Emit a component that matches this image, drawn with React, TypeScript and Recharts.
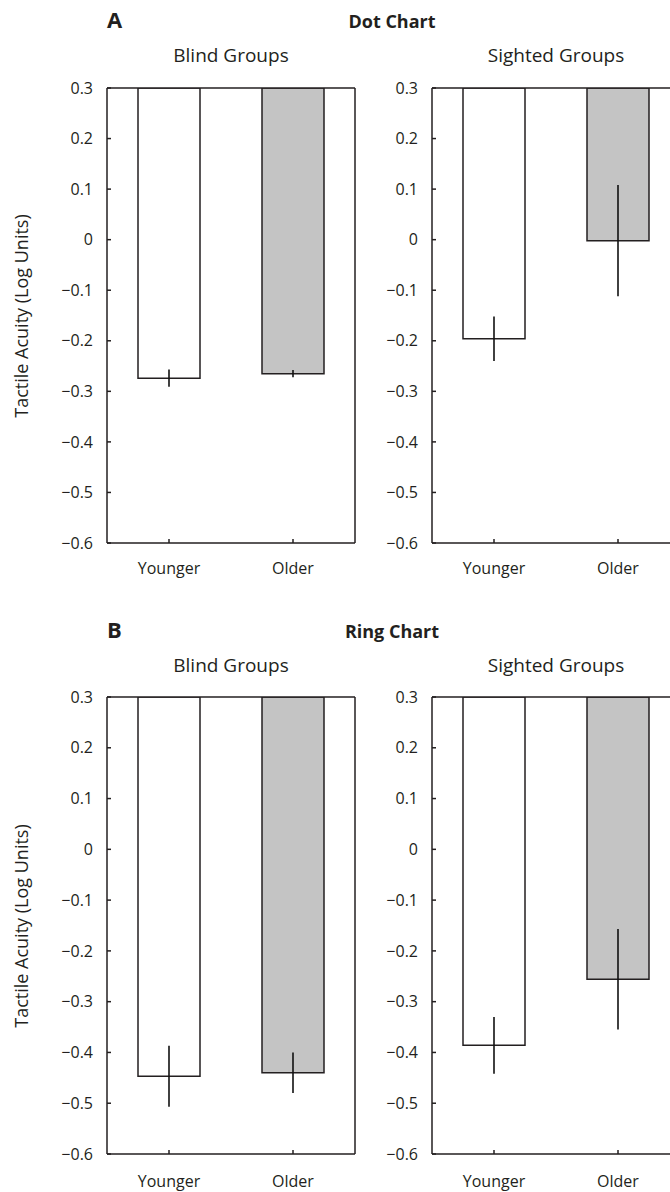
import { BarChart, Bar, XAxis, YAxis, ErrorBar, Cell } from "recharts";

const categories = ["Younger", "Older"];
const barFills = ["#ffffff", "#c4c4c4"];
const yTicks = [-0.6, -0.5, -0.4, -0.3, -0.2, -0.1, 0, 0.1, 0.2, 0.3];
const barTop = 0.3;

// Dot chart (A)
const dotBlind = [-0.274, -0.265];
const dotBlindErr = [0.017, 0.007];
const dotSighted = [-0.196, -0.002];
const dotSightedErr = [0.044, 0.11];

// Ring chart (B)
const ringBlind = [-0.447, -0.44];
const ringBlindErr = [0.06, 0.04];
const ringSighted = [-0.386, -0.256];
const ringSightedErr = [0.056, 0.099];

const FONT = "'Open Sans', 'Noto Sans', sans-serif";
const INK = "#231f20";
const PLOT_W = 248;
const AXIS_W = 50;

function fmt(v: number) {
  if (Math.abs(v) < 1e-9) return "0";
  const s = Math.abs(v).toFixed(1);
  return v < 0 ? "\u2212" + s : s;
}

function Panel({
  values,
  errors,
  left,
  top,
  plotH,
  labelGap,
}: {
  values: number[];
  errors: number[];
  left: number;
  top: number;
  plotH: number;
  labelGap: number;
}) {
  const data = categories.map((c, i) => ({
    group: c,
    range: [barTop, values[i]],
    err: errors[i],
  }));
  const tickStyle = { fontSize: 16, fill: INK, fontFamily: FONT };
  const line = { stroke: INK, strokeWidth: 1.5 };
  return (
    <div style={{ position: "absolute", left: left - AXIS_W, top: top - 10 }}>
      <BarChart
        width={AXIS_W + PLOT_W + 10}
        height={10 + plotH + 50}
        data={data}
        margin={{ top: 5, right: 0, bottom: 0, left: 0 }}
        barCategoryGap="25%"
        style={{ fontFamily: FONT }}
      >
        <XAxis
          xAxisId="top"
          orientation="top"
          dataKey="group"
          height={5}
          tick={false}
          tickSize={-4}
          axisLine={line}
          tickLine={line}
        />
        <XAxis
          dataKey="group"
          height={50}
          tickSize={-4}
          tickMargin={labelGap}
          tick={tickStyle}
          axisLine={line}
          tickLine={line}
        />
        <YAxis
          width={AXIS_W}
          domain={[-0.6, 0.3]}
          allowDataOverflow
          ticks={yTicks}
          interval={0}
          tickFormatter={fmt}
          tickSize={-4}
          tickMargin={18}
          tick={tickStyle}
          axisLine={line}
          tickLine={line}
        />
        <YAxis
          yAxisId="right"
          orientation="right"
          width={10}
          domain={[-0.6, 0.3]}
          allowDataOverflow
          ticks={yTicks}
          interval={0}
          tick={false}
          tickSize={-4}
          axisLine={line}
          tickLine={line}
        />
        <Bar dataKey="range" stroke={INK} strokeWidth={1.5} isAnimationActive={false}>
          {data.map((_, i) => (
            <Cell key={i} fill={barFills[i]} />
          ))}
          <ErrorBar dataKey="err" width={0} stroke="#111" strokeWidth={1.6} direction="y" />
        </Bar>
      </BarChart>
    </div>
  );
}

function Headers({ offset, letter, title }: { offset: number; letter: string; title: string }) {
  return (
    <>
      <text x={107} y={28 + offset} fontSize={22} fontWeight={700} fill={INK}>
        {letter}
      </text>
      <text x={392} y={28 + offset} fontSize={18} fontWeight={700} fill={INK} textAnchor="middle">
        {title}
      </text>
      <text x={231} y={62 + offset} fontSize={19} fill={INK} textAnchor="middle">
        Blind Groups
      </text>
      <text x={556} y={62 + offset} fontSize={19} fill={INK} textAnchor="middle">
        Sighted Groups
      </text>
      <text
        x={28}
        y={316 + offset}
        fontSize={18}
        fill={INK}
        textAnchor="middle"
        transform={`rotate(-90, 28, ${316 + offset})`}
      >
        Tactile Acuity (Log Units)
      </text>
    </>
  );
}

export default function App() {
  return (
    <div
      style={{
        position: "fixed",
        left: 0,
        top: 0,
        width: 670,
        height: 1192,
        overflow: "hidden",
        background: "#fff",
        fontFamily: FONT,
      }}
    >
      <Panel values={dotBlind} errors={dotBlindErr} left={107} top={88} plotH={455} labelGap={24} />
      <Panel values={dotSighted} errors={dotSightedErr} left={432} top={88} plotH={455} labelGap={24} />
      <Panel values={ringBlind} errors={ringBlindErr} left={107} top={697} plotH={457} labelGap={26} />
      <Panel values={ringSighted} errors={ringSightedErr} left={432} top={697} plotH={457} labelGap={26} />
      <svg
        width={670}
        height={1192}
        style={{ position: "absolute", left: 0, top: 0, pointerEvents: "none", fontFamily: FONT }}
      >
        <Headers offset={0} letter="A" title="Dot Chart" />
        <Headers offset={610} letter="B" title="Ring Chart" />
      </svg>
    </div>
  );
}
